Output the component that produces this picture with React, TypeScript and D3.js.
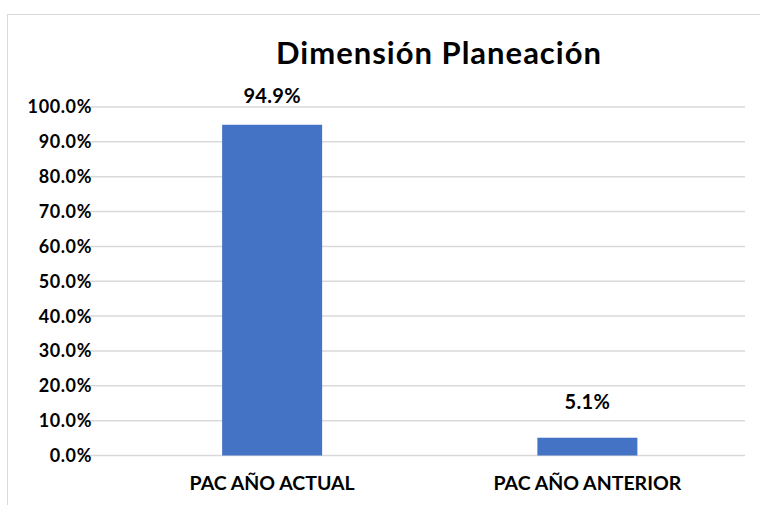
import React, { useRef, useEffect } from "react";
import * as d3 from "d3";

// Data
const categories = ["PAC AÑO ACTUAL", "PAC AÑO ANTERIOR"];
const values = [0.949, 0.051];
const yTicks = [0, 0.1, 0.2, 0.3, 0.4, 0.5, 0.6, 0.7, 0.8, 0.9, 1.0];
const title = "Dimensión Planeación";

// Geometry
const WIDTH = 760;
const HEIGHT = 505;
const PLOT_LEFT = 79;
const PLOT_RIGHT = 745;
const BAND_LEFT = 114.5;
const PLOT_TOP = 107;
const PLOT_BOTTOM = 455.5;
const BAR_WIDTH = 100;

const FONT = "Lato, 'Open Sans', sans-serif";
const BAR_COLOR = "#4472C4";
const GRID_COLOR = "#d9d9d9";

export default function App() {
  const svgRef = useRef<SVGSVGElement | null>(null);

  useEffect(() => {
    drawChart();
  }, []);

  function drawChart() {
    const svg = d3.select(svgRef.current);
    svg.selectAll("*").remove();

    const x = d3.scalePoint<string>()
      .domain(categories)
      .range([BAND_LEFT, PLOT_RIGHT])
      .padding(0.5);
    const y = d3.scaleLinear().domain([0, 1]).range([PLOT_BOTTOM, PLOT_TOP]);
    const fmt = d3.format(".1%");

    // chart border
    svg.append("rect")
      .attr("x", 7.5)
      .attr("y", 14.5)
      .attr("width", WIDTH)
      .attr("height", HEIGHT)
      .attr("fill", "#fff")
      .attr("stroke", GRID_COLOR);

    svg.append("text")
      .attr("x", 439)
      .attr("y", 64)
      .attr("text-anchor", "middle")
      .style("font-family", FONT)
      .style("font-weight", "bold")
      .style("font-size", "31px")
      .style("letter-spacing", "1px")
      .style("fill", "#000")
      .text(title);

    // gridlines
    svg.append("g")
      .selectAll("line")
      .data(yTicks)
      .join("line")
      .attr("x1", PLOT_LEFT)
      .attr("x2", PLOT_RIGHT)
      .attr("y1", (d) => y(d))
      .attr("y2", (d) => y(d))
      .attr("stroke", GRID_COLOR)
      .attr("stroke-width", 1.5);

    // y tick labels
    svg.append("g")
      .selectAll("text")
      .data(yTicks)
      .join("text")
      .attr("x", 92)
      .attr("y", (d) => y(d))
      .attr("dy", "0.36em")
      .attr("text-anchor", "end")
      .style("font-family", FONT)
      .style("font-weight", "bold")
      .style("font-size", "18px")
      .style("letter-spacing", "0.6px")
      .style("fill", "#000")
      .text((d) => fmt(d));

    // bars
    svg.append("g")
      .selectAll("rect")
      .data(values)
      .join("rect")
      .attr("x", (d, i) => (x(categories[i]) as number) - BAR_WIDTH / 2)
      .attr("y", (d) => y(d))
      .attr("width", BAR_WIDTH)
      .attr("height", (d) => PLOT_BOTTOM - y(d))
      .attr("fill", BAR_COLOR);

    // data labels
    svg.append("g")
      .selectAll("text")
      .data(values)
      .join("text")
      .attr("x", (d, i) => x(categories[i]) as number)
      .attr("y", (d) => Math.max(y(d) - 29, PLOT_TOP - 4))
      .attr("text-anchor", "middle")
      .style("font-family", FONT)
      .style("font-weight", "bold")
      .style("font-size", "20px")
      .style("letter-spacing", "0.3px")
      .style("fill", "#000")
      .text((d) => fmt(d));

    // category labels
    svg.append("g")
      .selectAll("text")
      .data(categories)
      .join("text")
      .attr("x", (d) => x(d) as number)
      .attr("y", 490)
      .attr("text-anchor", "middle")
      .style("font-family", FONT)
      .style("font-weight", "bold")
      .style("font-size", "19.5px")
      .style("fill", "#000")
      .text((d) => d);
  }

  return (
    <svg
      ref={svgRef}
      width={WIDTH}
      height={HEIGHT}
      style={{ position: "absolute", left: 0, top: 0, background: "#fff" }}
    ></svg>
  );
}
